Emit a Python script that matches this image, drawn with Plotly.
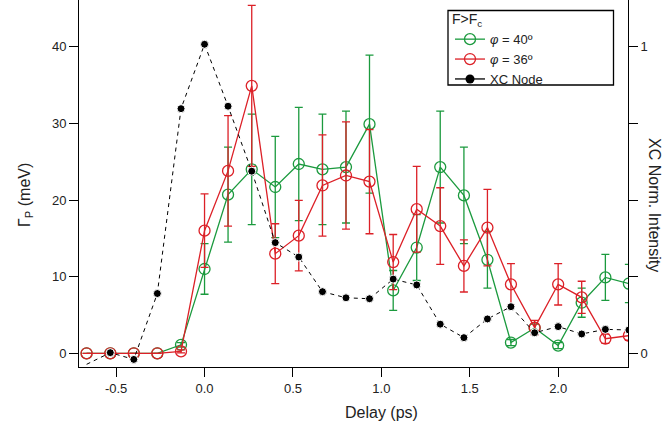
import plotly.graph_objects as go

# ---- data ----
delay_ps = [-0.667, -0.533, -0.4, -0.267, -0.133, 0.0, 0.133, 0.267, 0.4, 0.533,
            0.667, 0.8, 0.933, 1.067, 1.2, 1.333, 1.467, 1.6, 1.733, 1.867,
            2.0, 2.133, 2.267, 2.4]

gamma_phi40 = [0, 0, 0, 0, 1.1, 11.0, 20.7, 24.0, 21.7, 24.7,
               24.0, 24.3, 29.9, 8.2, 13.8, 24.3, 20.6, 12.2, 1.4, 3.3,
               1.0, 6.6, 9.9, 9.1]
err_phi40 = [0, 0, 0, 0, 0.3, 3.3, 6.2, 7.2, 6.6, 7.4,
             7.2, 7.3, 9.0, 2.6, 4.3, 7.3, 6.3, 3.7, 0.4, 0.5,
             0.4, 1.9, 3.0, 2.5]

gamma_phi36 = [0, 0, 0, 0, 0.25, 16.0, 23.8, 34.9, 13.0, 15.35,
               21.9, 23.2, 22.4, 11.9, 18.8, 16.6, 11.4, 16.4, 9.0, 3.35,
               9.0, 7.3, 1.9, 2.3]
err_phi36 = [0, 0, 0, 0, 0.2, 4.8, 7.2, 10.5, 3.9, 4.6,
             6.6, 7.0, 6.8, 3.6, 5.6, 5.0, 3.4, 5.0, 2.7, 0.95,
             2.7, 2.1, 0.6, 0.6]

xc_node = [-0.036, 0.002, -0.02, 0.195, 0.798, 1.008, 0.806, 0.594, 0.361, 0.314,
           0.201, 0.181, 0.178, 0.242, 0.223, 0.095, 0.051, 0.112, 0.152, 0.067,
           0.087, 0.063, 0.078, 0.076]

x_ticks = [-0.5, 0.0, 0.5, 1.0, 1.5, 2.0]
x_ticklabels = ["-0.5", "0.0", "0.5", "1.0", "1.5", "2.0"]
y_ticks = [0, 10, 20, 30, 40]
y2_ticks = [0, 0.25, 0.5, 0.75, 1]
y2_ticklabels = ["0", "", "", "", "1"]

# ---- style ----
GREEN = "#1b9a3e"
RED = "#dc2027"
FONT = "Liberation Sans, Arial, sans-serif"
Y_RANGE = [-1.79, 46.1]
Y_SCALE = 40.0  # left-axis units per right-axis unit

fig = go.Figure()

fig.add_trace(go.Scatter(
    x=delay_ps, y=gamma_phi40, name="<i>φ</i> = 40º", legendrank=1,
    mode="lines+markers",
    line=dict(color=GREEN, width=1.3),
    marker=dict(symbol="circle-open", size=11, color=GREEN, line=dict(width=1.3)),
    error_y=dict(type="data", array=err_phi40, color=GREEN, thickness=1.3, width=4),
))
fig.add_trace(go.Scatter(
    x=delay_ps, y=gamma_phi36, name="<i>φ</i> = 36º", legendrank=2,
    mode="lines+markers",
    line=dict(color=RED, width=1.3),
    marker=dict(symbol="circle-open", size=11, color=RED, line=dict(width=1.3)),
    error_y=dict(type="data", array=err_phi36, color=RED, thickness=1.3, width=4),
))
fig.add_trace(go.Scatter(
    x=delay_ps, y=xc_node, yaxis="y2", showlegend=False,
    mode="lines+markers",
    line=dict(color="black", width=1, dash="4px,4px"),
    marker=dict(symbol="circle", size=[0] + [8] * (len(delay_ps) - 1), color="black",
                opacity=1),
))
# legend entry for XC Node (solid line in the legend, as in the reference)
fig.add_trace(go.Scatter(
    x=[None], y=[None], yaxis="y2", name="XC Node", legendrank=3,
    mode="lines+markers",
    line=dict(color="black", width=1.3),
    marker=dict(symbol="circle", size=9, color="black"),
))

axis_common = dict(
    showline=True, linecolor="black", linewidth=1,
    ticks="outside", ticklen=9, tickwidth=1, tickcolor="black",
    showgrid=False, zeroline=False,
    tickfont=dict(family=FONT, size=13, color="#222"),
)

# plot-area pixel geometry used for the legend box
L, R, T, B = 79, 40, 0, 77
W, H = 668, 444
pw, ph = W - L - R, H - T - B

def px_x(px):
    return (px - L) / pw

def px_y(py):
    return 1 - (py - T) / ph

fig.update_layout(
    width=W, height=H,
    margin=dict(l=L, r=R, t=T, b=B, autoexpand=False),
    paper_bgcolor="white", plot_bgcolor="white",
    font=dict(family=FONT, size=14, color="#222"),
    showlegend=True,
    xaxis=dict(range=[-0.71, 2.395], tickvals=x_ticks, ticktext=x_ticklabels, **axis_common),
    yaxis=dict(range=Y_RANGE, tickvals=y_ticks, **axis_common),
    yaxis2=dict(range=[Y_RANGE[0] / Y_SCALE, Y_RANGE[1] / Y_SCALE], overlaying="y", side="right",
                tickvals=y2_ticks, ticktext=y2_ticklabels, **axis_common),
    legend=dict(
        x=px_x(450), y=px_y(6), xanchor="left", yanchor="top",
        bgcolor="rgba(0,0,0,0)", borderwidth=0,
        font=dict(family=FONT, size=13, color="#222"),
        title=dict(text="F>F<sub>c</sub>", font=dict(family=FONT, size=14, color="#222")),
        tracegroupgap=0,
    ),
    shapes=[dict(type="rect", xref="paper", yref="paper",
                 x0=px_x(448), x1=px_x(613.5), y0=px_y(85), y1=px_y(10.5),
                 line=dict(color="black", width=1.3), fillcolor="rgba(0,0,0,0)")],
    annotations=[
        dict(text="Delay (ps)", xref="paper", yref="paper", x=px_x(382), y=px_y(412),
             showarrow=False, font=dict(family=FONT, size=16, color="#222"),
             xanchor="center", yanchor="middle"),
        dict(text="Γ<sub>P</sub> (meV)", xref="paper", yref="paper", x=px_x(25), y=px_y(195),
             showarrow=False, textangle=-90, font=dict(family=FONT, size=16, color="#222"),
             xanchor="center", yanchor="middle"),
        dict(text="XC Norm. Intensity", xref="paper", yref="paper", x=px_x(655), y=px_y(205),
             showarrow=False, textangle=90, font=dict(family=FONT, size=16, color="#222"),
             xanchor="center", yanchor="middle"),
    ],
)

fig.write_html("out.html", config={"displayModeBar": False},
               post_script="document.body.style.margin='0px';")
